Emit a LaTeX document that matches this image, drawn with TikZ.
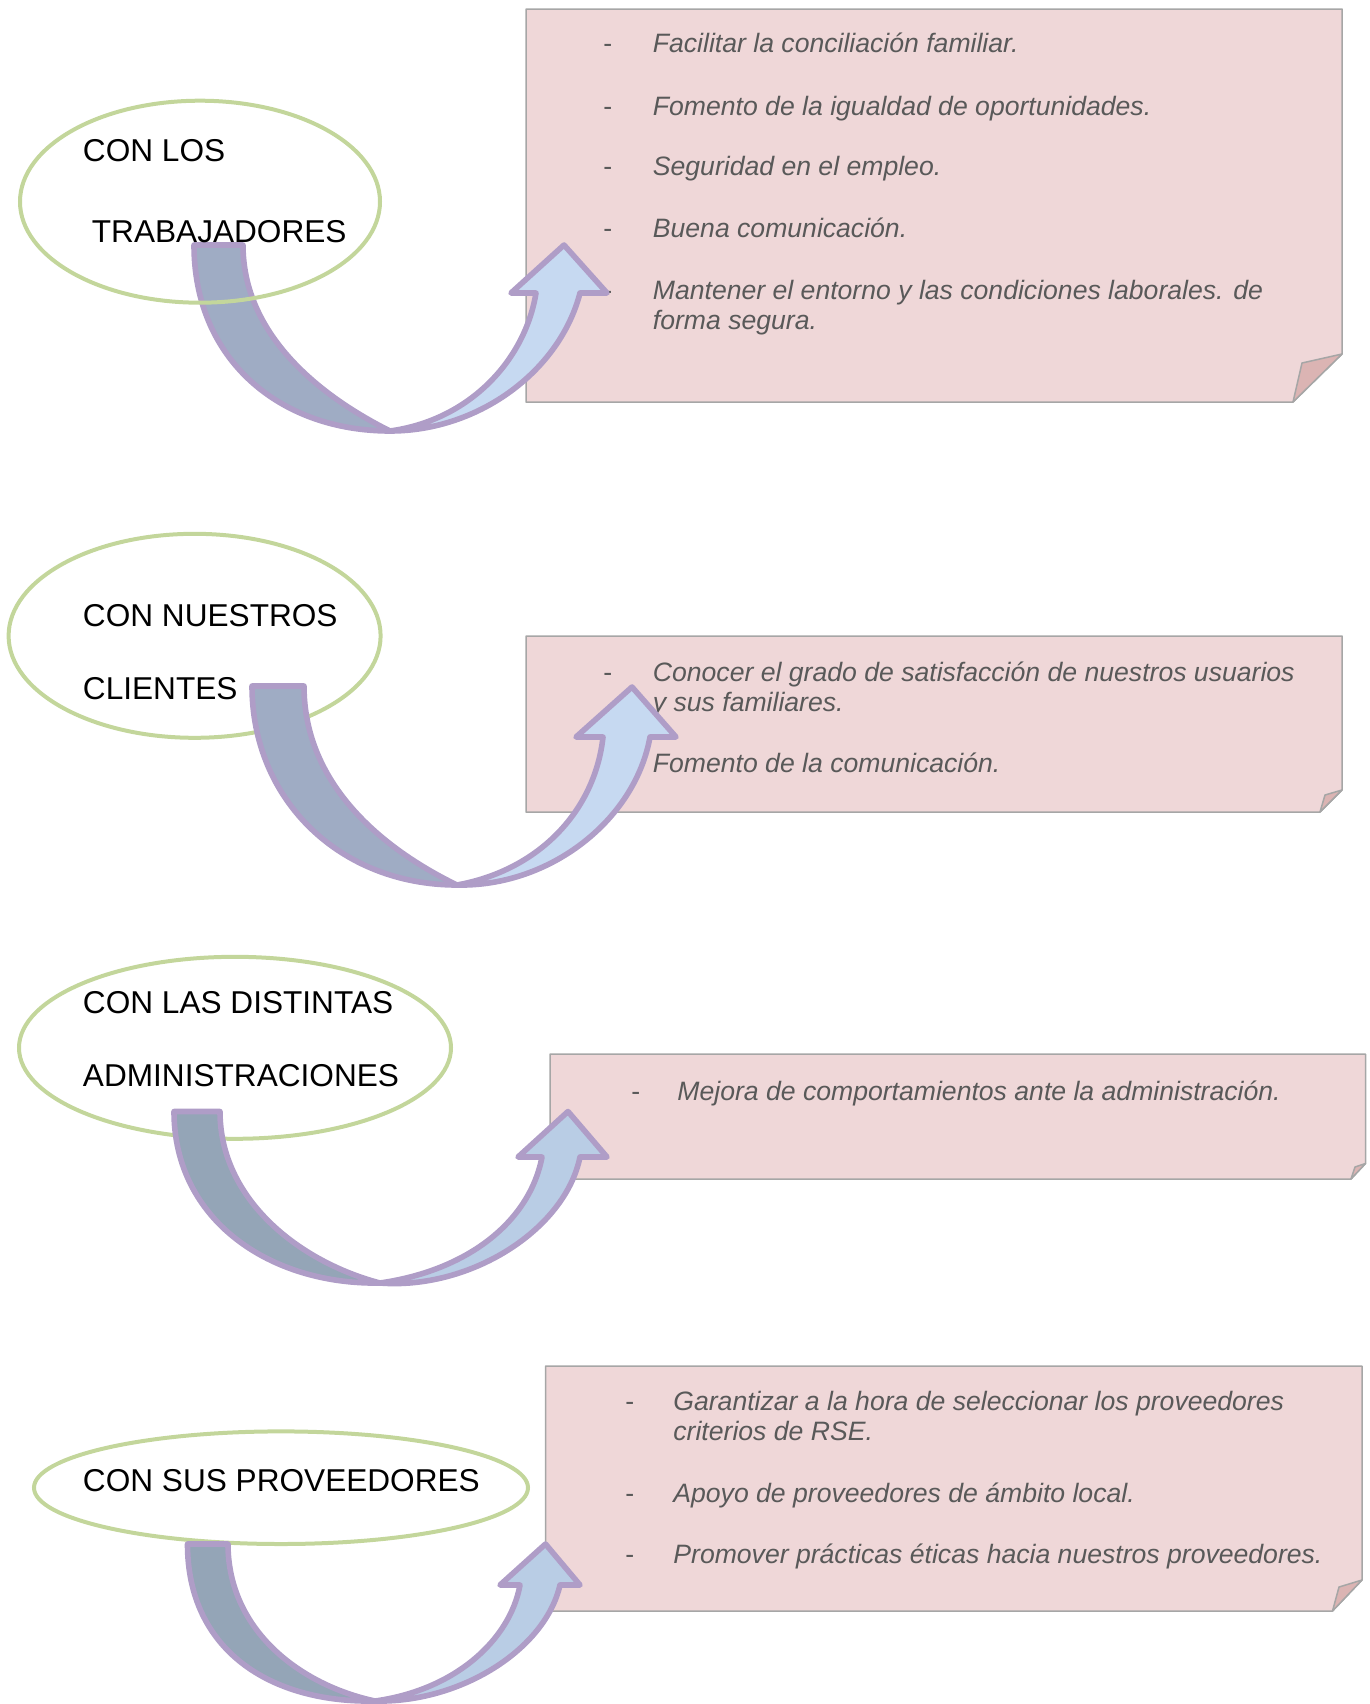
\documentclass[tikz,border=0pt]{standalone}
\usepackage{fontspec}
\setmainfont{Liberation Sans}
\usetikzlibrary{shapes.geometric}
\definecolor{notafondo}{HTML}{EFD7D8}
\definecolor{notaborde}{HTML}{A6A6A6}
\definecolor{notapliegue}{HTML}{DBB4B3}
\definecolor{textogris}{HTML}{595959}
\definecolor{verde}{HTML}{C3D69B}
\definecolor{lila}{HTML}{AF9DC7}
\definecolor{dorso}{HTML}{9FACC4}
\definecolor{frente}{HTML}{C6D9F1}
\definecolor{dorsob}{HTML}{94A5B7}
\definecolor{frenteb}{HTML}{B9CDE5}
\tikzset{
  nota/.style={fill=notafondo, draw=notaborde, line width=0.75pt, line join=round},
  pliegue/.style={fill=notapliegue, draw=notaborde, line width=0.75pt, line join=round},
  grupo/.style={ellipse, draw=verde, line width=2pt, inner sep=0pt},
  rotulo/.style={font=\fontsize{15.8}{18}\selectfont, text=black, inner sep=0pt, anchor=base west},
  guion/.style={font=\fontsize{13.3}{15.2}\selectfont, text=textogris, inner sep=0pt, anchor=base west},
  accion/.style={font=\fontsize{13.3}{15.2}\selectfont\itshape, text=textogris, inner sep=0pt,
    anchor=base west, align=left},
  dorsoflecha/.style={fill=#1, draw=lila, line width=2.8pt, line join=round},
  frenteflecha/.style={fill=#1, draw=lila, line width=2.8pt, line join=round}
}
\begin{document}
\begin{tikzpicture}[x=0.5pt, y=-0.5pt]
    \useasboundingbox (0,0) rectangle (1370,1704);
    % notas
    \draw[nota] (526,9) -- (1342,9) -- (1342,354) -- (1293,402) -- (526,402) -- cycle;
    \draw[pliegue] (1342,354) -- (1302,363) -- (1293,402) -- cycle;
    \draw[nota] (526,636) -- (1342,636) -- (1342,790) -- (1320,812) -- (526,812) -- cycle;
    \draw[pliegue] (1342,790) -- (1325,795) -- (1320,812) -- cycle;
    \draw[nota] (550,1054) -- (1365.5,1054) -- (1365.5,1163.5) -- (1351,1179) -- (550,1179) -- cycle;
    \draw[pliegue] (1365.5,1163.5) -- (1355,1167) -- (1351,1179) -- cycle;
    \draw[nota] (545.5,1366) -- (1362,1366) -- (1362,1580) -- (1332.5,1611) -- (545.5,1611) -- cycle;
    \draw[pliegue] (1362,1580) -- (1339,1587) -- (1332.5,1611) -- cycle;

    % las de dos lineas van por la base de la ultima
    \node[guion] (g11) at (603,52.7) {-};
    \node[accion] (a11) at (652.5,52.7) {Facilitar la conciliación familiar.};
    \node[guion] (g12) at (603,115) {-};
    \node[accion] (a12) at (652.5,115) {Fomento de la igualdad de oportunidades.};
    \node[guion] (g13) at (603,175.7) {-};
    \node[accion] (a13) at (652.5,175.7) {Seguridad en el empleo.};
    \node[guion] (g14) at (603,237) {-};
    \node[accion] (a14) at (652.5,237) {Buena comunicación.};
    \node[guion] (g15) at (603,299) {-};
    \node[accion] (a15) at (652.5,329.4) {Mantener el entorno y las condiciones laborales. de\\forma segura.};

    \node[guion] (g21) at (603,681) {-};
    \node[accion] (a21) at (652.5,711.4) {Conocer el grado de satisfacción de nuestros usuarios\\y sus familiares.};
    \node[guion] (g22) at (603,772.7) {-};
    \node[accion] (a22) at (652.5,772.7) {Fomento de la comunicación.};

    \node[guion] (g31) at (631,1100) {-};
    \node[accion] (a31) at (677,1100) {Mejora de comportamientos ante la administración.};

    \node[guion] (g41) at (625,1410) {-};
    \node[accion] (a41) at (673,1440.4) {Garantizar a la hora de seleccionar los proveedores\\criterios de RSE.};
    \node[guion] (g42) at (625,1502.3) {-};
    \node[accion] (a42) at (673,1502.3) {Apoyo de proveedores de ámbito local.};
    \node[guion] (g43) at (625,1563.3) {-};
    \node[accion] (a43) at (673,1563.3) {Promover prácticas éticas hacia nuestros proveedores.};

    % flecha 1, queda debajo de la elipse
    \draw[dorsoflecha=dorso] (194,245) -- (243,245) .. controls (243,335) and (320,396) .. (390,431)
      .. controls (280,431) and (194,360) .. (194,245) -- cycle;
    \draw[frenteflecha=frente] (390,431) .. controls (480,431) and (560,370) .. (580,293) -- (607,293)
      -- (564,245) -- (511,293) -- (536,293) .. controls (525,360) and (470,420) .. (390,431) -- cycle;

    % elipses
    \node[grupo, minimum width=180pt, minimum height=101pt] (trab) at (200,201.7) {};
    \node[rotulo] (t1a) at (82.6,161) {CON LOS};
    \node[rotulo] (t1b) at (91.5,242.7) {TRABAJADORES};
    \node[grupo, minimum width=186pt, minimum height=102pt] (clie) at (194.6,635.8) {};
    \node[rotulo] (t2a) at (82.6,626.7) {CON NUESTROS};
    \node[rotulo] (t2b) at (82.6,699.3) {CLIENTES};
    \node[grupo, minimum width=216pt, minimum height=91pt] (admi) at (235,1047.8) {};
    \node[rotulo] (t3a) at (82.6,1013.3) {CON LAS DISTINTAS};
    \node[rotulo] (t3b) at (82.6,1086) {ADMINISTRACIONES};
    \node[grupo, minimum width=247pt, minimum height=56.3pt] (prov) at (281,1487.7) {};
    \node[rotulo] (t4a) at (82.6,1491) {CON SUS PROVEEDORES};

    % flechas 2 a 4
    \draw[dorsoflecha=dorso] (252,686) -- (304,686) .. controls (304,786) and (385,850) .. (457,885)
      .. controls (340,885) and (252,800) .. (252,686) -- cycle;
    \draw[frenteflecha=frente] (457,885) .. controls (550,887) and (635,820) .. (650,737) -- (676,737)
      -- (632,687) -- (576,737) -- (603,737) .. controls (595,810) and (540,870) .. (457,885) -- cycle;
    \draw[dorsoflecha=dorsob] (174,1111.5) -- (220,1111.5) .. controls (220,1200) and (300,1262) .. (380,1283)
      .. controls (270,1285) and (174,1220) .. (174,1111.5) -- cycle;
    \draw[frenteflecha=frenteb] (380,1283) .. controls (470,1290) and (565,1230) .. (580,1157) -- (607,1157)
      -- (568,1111.5) -- (518,1157) -- (542,1157) .. controls (530,1220) and (470,1270) .. (380,1283) -- cycle;
    \draw[dorsoflecha=dorsob] (187.5,1544) -- (228,1544) .. controls (228,1630) and (300,1685) .. (375,1701)
      .. controls (270,1703) and (187.5,1650) .. (187.5,1544) -- cycle;
    \draw[frenteflecha=frenteb] (375,1701) .. controls (460,1703) and (545,1650) .. (560,1585) -- (580,1585)
      -- (545.5,1544) -- (500,1585) -- (520,1585) .. controls (510,1640) and (455,1690) .. (375,1701) -- cycle;
\end{tikzpicture}
\end{document}
